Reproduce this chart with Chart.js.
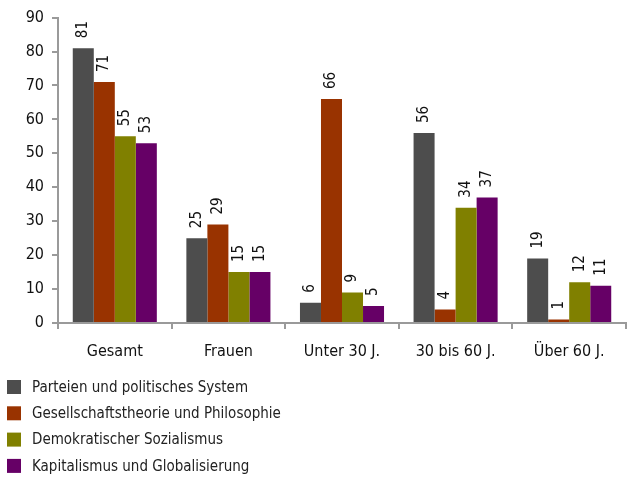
<!DOCTYPE html>
<html>
<head>
<meta charset="utf-8">
<script src="https://cdn.jsdelivr.net/npm/chart.js@4"></script>
<style>
  html, body { margin: 0; padding: 0; background: #fff; }
  #wrap { width: 627px; height: 480px; }
</style>
</head>
<body>
<div id="wrap"><canvas id="chart" width="627" height="480"></canvas></div>
<script>
// groups on the x axis
const categories = ['Gesamt', 'Frauen', 'Unter 30 J.', '30 bis 60 J.', 'Über 60 J.'];

// one array per series
const seriesNames = [
    'Parteien und politisches System',
    'Gesellschaftstheorie und Philosophie',
    'Demokratischer Sozialismus',
    'Kapitalismus und Globalisierung'
];
const parteien = [81, 25, 6, 56, 19];
const gesellschaft = [71, 29, 66, 4, 1];
const sozialismus = [55, 15, 9, 34, 12];
const kapitalismus = [53, 15, 5, 37, 11];

// y axis range
const yMin = 0;
const yMax = 90;
const yStep = 10;

const COLORS = ['#4d4d4d', '#993300', '#808000', '#660066'];
const FONT = '"Liberation Sans Narrow", "DejaVu Sans Condensed", sans-serif';
const AXIS_GRAY = '#9a9a9a';

// value labels turned on their side above each bar
const barLabels = {
    id: 'barLabels',
    afterDatasetsDraw(chart) {
        const ctx = chart.ctx;
        ctx.save();
        ctx.fillStyle = '#111';
        ctx.font = '15px ' + FONT;
        ctx.textAlign = 'left';
        ctx.textBaseline = 'middle';
        chart.data.datasets.forEach(function(ds, i) {
            chart.getDatasetMeta(i).data.forEach(function(bar, j) {
                ctx.save();
                ctx.translate(bar.x, bar.y - 10);
                ctx.rotate(-Math.PI / 2);
                ctx.fillText(String(ds.data[j]), 0, 0);
                ctx.restore();
            });
        });
        ctx.restore();
    }
};

// legend as a plain vertical list under the chart
const listLegend = {
    id: 'listLegend',
    afterDraw(chart) {
        const ctx = chart.ctx;
        ctx.save();
        ctx.font = '15px ' + FONT;
        ctx.textBaseline = 'middle';
        chart.data.datasets.forEach(function(ds, i) {
            const y = 387 + i * 26.3;
            ctx.fillStyle = ds.backgroundColor;
            ctx.fillRect(7, y - 7, 14, 14);
            ctx.fillStyle = '#222';
            ctx.fillText(ds.label, 32, y + 1);
        });
        ctx.restore();
    }
};

const allSeries = [parteien, gesellschaft, sozialismus, kapitalismus];
const datasets = [];
for (let i = 0; i < allSeries.length; i++) {
    datasets.push({
        label: seriesNames[i],
        data: allSeries[i],
        backgroundColor: COLORS[i],
        borderWidth: 0
    });
}

new Chart(document.getElementById('chart'), {
    type: 'bar',
    data: { labels: categories, datasets: datasets },
    plugins: [barLabels, listLegend],
    options: {
        responsive: false,
        animation: false,
        categoryPercentage: 0.74,
        barPercentage: 1,
        layout: { padding: { top: 7, right: 1, bottom: 117, left: 0 } },
        plugins: {
            legend: { display: false },
            tooltip: { enabled: false }
        },
        scales: {
            x: {
                afterFit: function(scale) { scale.height = 40; },
                grid: { drawOnChartArea: false, color: AXIS_GRAY, tickLength: 6, lineWidth: 2 },
                border: { color: AXIS_GRAY, width: 2 },
                ticks: { color: '#111', font: { family: FONT, size: 16 }, padding: 13 }
            },
            y: {
                min: yMin,
                max: yMax,
                afterFit: function(scale) { scale.width = 58; },
                grid: { drawOnChartArea: false, color: AXIS_GRAY, tickLength: 6, lineWidth: 2 },
                border: { color: AXIS_GRAY, width: 2 },
                ticks: { stepSize: yStep, color: '#111', font: { family: FONT, size: 16 }, padding: 8 }
            }
        }
    }
});
</script>
</body>
</html>
